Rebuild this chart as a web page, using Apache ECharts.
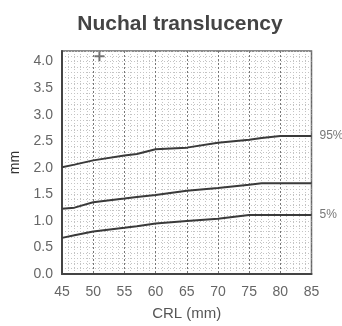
<!DOCTYPE html>
<html><head><meta charset="utf-8">
<script src="https://cdn.jsdelivr.net/npm/echarts@6/dist/echarts.min.js"></script>
<style>html,body{margin:0;padding:0;background:#fff}#c{width:342px;height:326px}</style>
</head><body><div id="c"></div>
<script>
const crl = [45, 47, 50, 55, 57, 60, 65, 70, 75, 77, 80, 85];
const p95 = [2.01, 2.06, 2.14, 2.23, 2.26, 2.35, 2.38, 2.47, 2.53, 2.56, 2.60, 2.60];
const p50 = [1.23, 1.25, 1.35, 1.42, 1.45, 1.49, 1.57, 1.62, 1.68, 1.71, 1.71, 1.71];
const p5  = [0.68, 0.73, 0.80, 0.87, 0.90, 0.95, 1.00, 1.04, 1.11, 1.11, 1.11, 1.11];
const marker = [[51, 4.1]];
const xTicks = [45, 50, 55, 60, 65, 70, 75, 80, 85];
const yTicks = [0, 0.5, 1, 1.5, 2, 2.5, 3, 3.5, 4];

const pairs = ys => crl.map((x, i) => [x, ys[i]]);
const font = "'Liberation Sans', Arial, sans-serif";
const chart = echarts.init(document.getElementById('c'), null, {renderer: 'canvas'});
const lineSeries = (name, ys, label) => ({
  name, type: 'line', data: pairs(ys), symbol: 'none', smooth: false,
  lineStyle: {color: '#3a3a3a', width: 2},
  endLabel: label ? {show: true, formatter: label, color: '#777', fontSize: 12, fontFamily: font, offset: [0, 0]} : {show: false},
  z: 5
});
chart.setOption({
  animation: false,
  title: {text: 'Nuchal translucency', left: 175, top: 9, textAlign: 'center',
    textStyle: {fontFamily: font, fontSize: 21, fontWeight: 'bold', color: '#444'}},
  grid: {left: 58.5, right: 30.5, top: 51, bottom: 49.5, show: true, borderColor: '#666', borderWidth: 1.5, backgroundColor: 'transparent'},
  xAxis: {type: 'value', min: 45, max: 85, interval: 5,
    name: 'CRL (mm)', nameLocation: 'middle', nameGap: 32,
    nameTextStyle: {fontFamily: font, fontSize: 15, color: '#555'},
    axisLine: {show: true, lineStyle: {color: '#444', width: 2}},
    axisTick: {show: false},
    axisLabel: {fontFamily: font, fontSize: 14, color: '#666', margin: 11,
      formatter: v => xTicks.includes(v) ? String(v) : ''},
    splitLine: {show: true, lineStyle: {color: '#777', width: 1, type: [2, 2]}},
    minorTick: {show: false, splitNumber: 5},
    minorSplitLine: {show: true, lineStyle: {color: '#c4c4c4', width: 1, type: [1, 2]}}
  },
  yAxis: [{type: 'value', min: 0, max: 4.2, interval: 0.5,
    name: 'mm', nameLocation: 'middle', nameGap: 40,
    nameTextStyle: {fontFamily: font, fontSize: 14, color: '#333'},
    axisLine: {show: true, lineStyle: {color: '#444', width: 2}},
    axisTick: {show: false},
    axisLabel: {fontFamily: font, fontSize: 14, color: '#666', margin: 9, showMaxLabel: false,
      formatter: v => yTicks.some(t => Math.abs(t - v) < 1e-6) ? v.toFixed(1) : ''},
    splitLine: {show: false}
  }, {type: 'value', min: 0, max: 42, interval: 1, position: 'left', show: true,
    axisLine: {show: false}, axisTick: {show: false}, axisLabel: {show: false},
    splitLine: {show: true, lineStyle: {color: '#c4c4c4', width: 1, type: [1, 2]}}
  }],
  series: [
    lineSeries('p95', p95, '95%'),
    lineSeries('p50', p50, null),
    lineSeries('p5', p5, '5%'),
    {type: 'scatter', data: marker, symbol: 'path://M4,0H6V4H10V6H6V10H4V6H0V4H4Z', symbolSize: 10,
      itemStyle: {color: '#555'}, z: 6}
  ]
});
</script></body></html>
